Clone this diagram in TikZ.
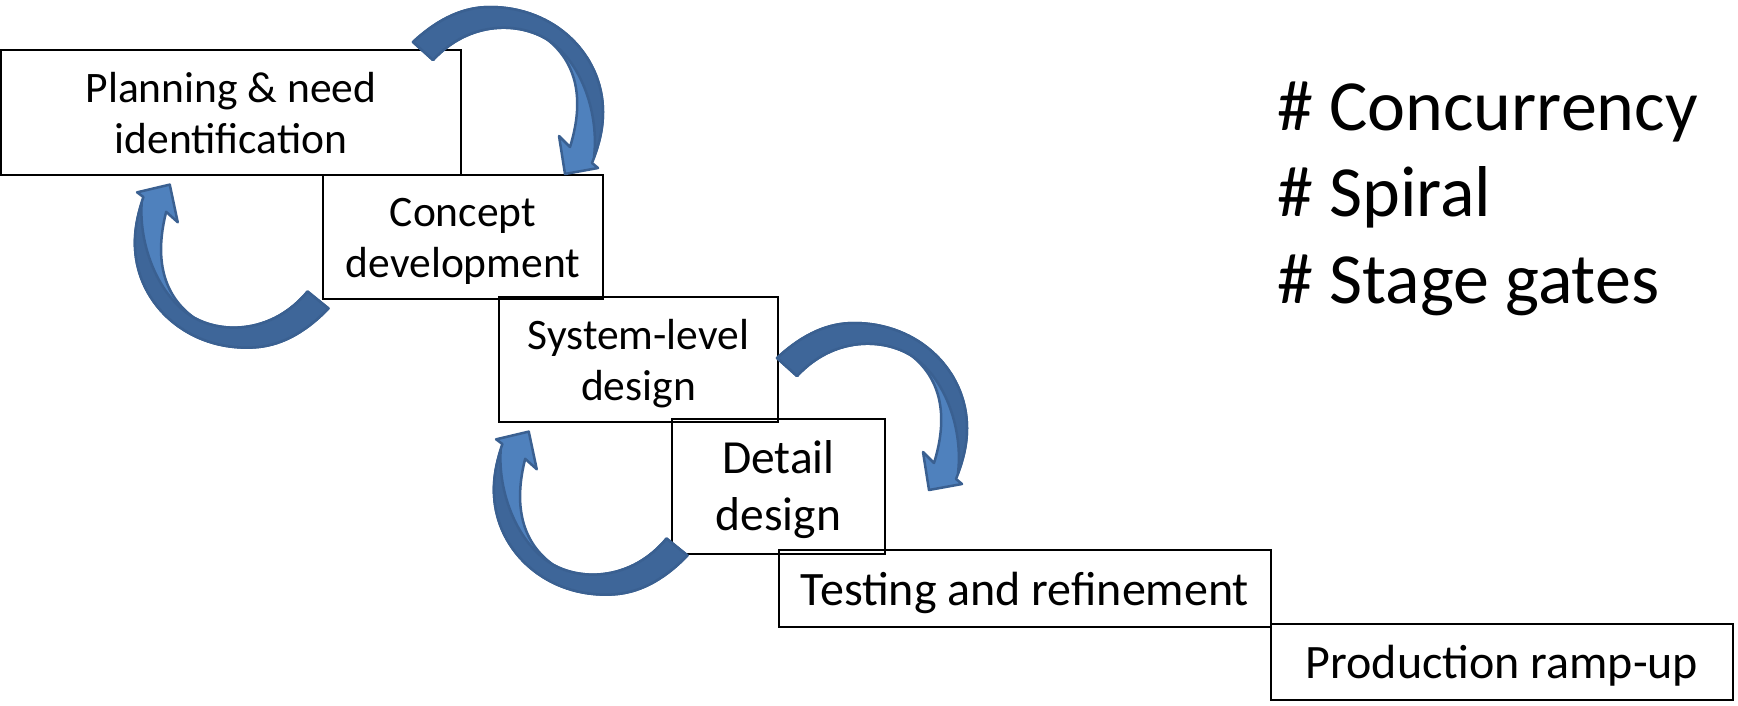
\documentclass[tikz,border=0pt]{standalone}
\usepackage{fontspec}
\setmainfont{Carlito}
\definecolor{arrowlight}{HTML}{4F81BD}
\definecolor{arrowdark}{HTML}{3E6699}
\definecolor{arrowline}{HTML}{3A6091}
\newcommand{\topstrut}[1]{\rule{0pt}{#1}}
\newcommand{\botstrut}[1]{\rule[-#1]{0pt}{#1}}
\begin{document}
\begin{tikzpicture}[x=1pt,y=-1pt,
  stage/.style={draw=black, line width=1.8pt, inner sep=0pt, align=center},
  smalltext/.style={font=\fontsize{43.5}{51}\selectfont},
  detailtext/.style={font=\fontsize{47.5}{57}\selectfont},
  bigtext/.style={font=\fontsize{48}{57}\selectfont},
  listtext/.style={font=\fontsize{72}{86}\selectfont, anchor=base west, inner sep=0pt},
  curvarrow/.pic={
    \filldraw[fill=arrowlight, draw=arrowline, line width=2.5pt, line join=round]
      (-10,-9) .. controls (17,-34) and (42,-44) .. (67,-44)
      .. controls (132,-44) and (180,4) .. (180,61)
      .. controls (180,79) and (175,97) .. (169,112)
      -- (175,117) -- (142,123) -- (136,85) -- (147,96)
      .. controls (157,64) and (162,19) .. (125,-11)
      .. controls (97,-29) and (47,-31) .. (10,9) -- cycle;
    \filldraw[fill=arrowdark, draw=arrowline, line width=2.5pt, line join=round]
      (-10,-9) .. controls (17,-34) and (42,-44) .. (67,-44)
      .. controls (132,-44) and (180,4) .. (180,61)
      .. controls (180,79) and (176,93) .. (171,106)
      .. controls (176,65) and (160,12) .. (125,-11)
      .. controls (97,-29) and (47,-31) .. (10,9) -- cycle;
  }]
\fill[white] (0,0) rectangle (1738,705);
\useasboundingbox (0,0) rectangle (1738,705);

\node[stage, smalltext, minimum width=460pt, minimum height=125pt] (plan) at (231,112.5)
  {\topstrut{42pt}Planning \& need\\identification\botstrut{12pt}};
\node[stage, smalltext, minimum width=280pt, minimum height=124pt] (concept) at (463,237)
  {\topstrut{42pt}Concept\\development\botstrut{12pt}};
\node[stage, smalltext, minimum width=279pt, minimum height=125pt] (system) at (638.5,359.5)
  {\topstrut{42pt}System-level\\design\botstrut{12pt}};
\node[stage, detailtext, minimum width=213pt, minimum height=135pt] (detail) at (778.5,486.5)
  {\topstrut{44pt}Detail\\design\botstrut{14pt}};
\node[stage, bigtext, minimum width=492pt, minimum height=77pt] (testing) at (1025,588.5)
  {\topstrut{45pt}Testing and refinement\botstrut{12pt}};
\node[stage, bigtext, minimum width=462pt, minimum height=76pt] (production) at (1502,662)
  {\topstrut{45pt}Production ramp-up\botstrut{12pt}};

\pic at (423,51) {curvarrow};
\pic[rotate=-177] at (318,300) {curvarrow};
\pic at (787,367) {curvarrow};
\pic[rotate=-177] at (677,547) {curvarrow};

\node[listtext] (concurrency) at (1277,130) {\# Concurrency};
\node[listtext] (spiral) at (1277,216.5) {\# Spiral};
\node[listtext] (gates) at (1277,303) {\# Stage gates};
\end{tikzpicture}
\end{document}
